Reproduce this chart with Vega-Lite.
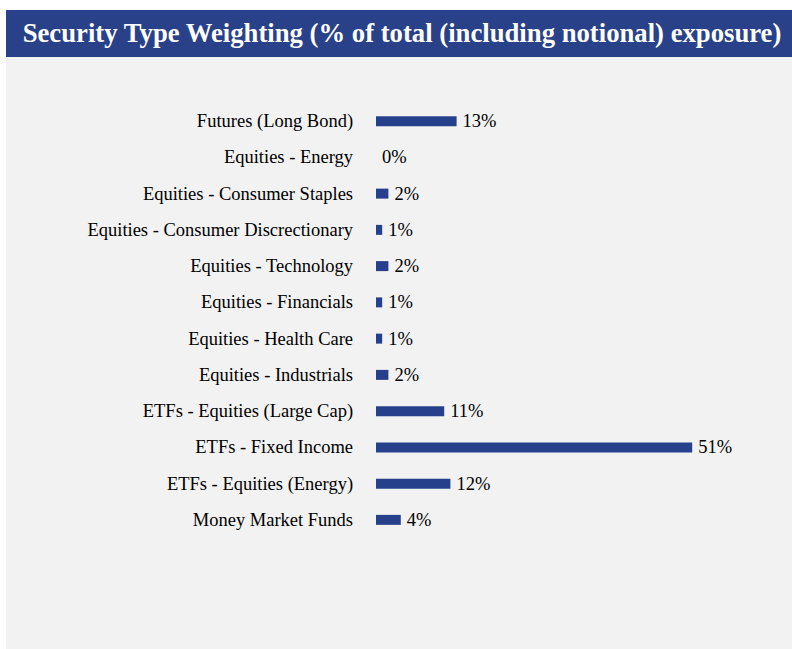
{
  "$schema": "https://vega.github.io/schema/vega-lite/v6.json",
  "background": "#ffffff",
  "padding": {"left": 6, "top": 10, "right": 0, "bottom": 0},
  "spacing": 0,
  "config": {"view": {"stroke": null}, "concat": {"spacing": 0}},
  "datasets": {
    "rows": [
      {"category": "Futures (Long Bond)", "value": 0.13},
      {"category": "Equities - Energy", "value": 0.0},
      {"category": "Equities - Consumer Staples", "value": 0.02},
      {"category": "Equities - Consumer Discrectionary", "value": 0.01},
      {"category": "Equities - Technology", "value": 0.02},
      {"category": "Equities - Financials", "value": 0.01},
      {"category": "Equities - Health Care", "value": 0.01},
      {"category": "Equities - Industrials", "value": 0.02},
      {"category": "ETFs - Equities (Large Cap)", "value": 0.11},
      {"category": "ETFs - Fixed Income", "value": 0.51},
      {"category": "ETFs - Equities (Energy)", "value": 0.12},
      {"category": "Money Market Funds", "value": 0.04}
    ]
  },
  "vconcat": [
    {
      "width": 786,
      "height": 47,
      "view": {"fill": "#284189", "stroke": null},
      "data": {"values": [{"t": "Security Type Weighting (% of total (including notional) exposure)"}]},
      "mark": {"type": "text", "font": "Liberation Serif", "fontWeight": "bold", "fontSize": 26.7, "color": "#ffffff", "align": "center", "baseline": "middle", "dx": 3},
      "encoding": {"text": {"field": "t"}}
    },
    {
      "width": 786,
      "height": 592,
      "view": {"fill": "#f2f2f2", "stroke": null},
      "data": {"name": "rows"},
      "encoding": {
        "y": {"field": "category", "type": "nominal", "sort": null, "axis": null,
              "scale": {"range": [46, 481], "paddingInner": 0, "paddingOuter": 0}}
      },
      "layer": [
        {
          "mark": {"type": "bar", "color": "#27408b", "height": 10},
          "encoding": {
            "x": {"field": "value", "type": "quantitative", "axis": null,
                  "scale": {"domain": [-0.5968, 0.671], "nice": false, "zero": false}}
          }
        },
        {
          "mark": {"type": "text", "font": "Liberation Serif", "fontSize": 18.5, "color": "#000000", "align": "left", "baseline": "middle", "dx": 6},
          "encoding": {
            "x": {"field": "value", "type": "quantitative"},
            "text": {"field": "value", "type": "quantitative", "format": ".0%"}
          }
        },
        {
          "mark": {"type": "text", "font": "Liberation Serif", "fontSize": 18.5, "color": "#000000", "align": "right", "baseline": "middle"},
          "encoding": {
            "x": {"datum": -0.037},
            "text": {"field": "category"}
          }
        }
      ]
    }
  ]
}
